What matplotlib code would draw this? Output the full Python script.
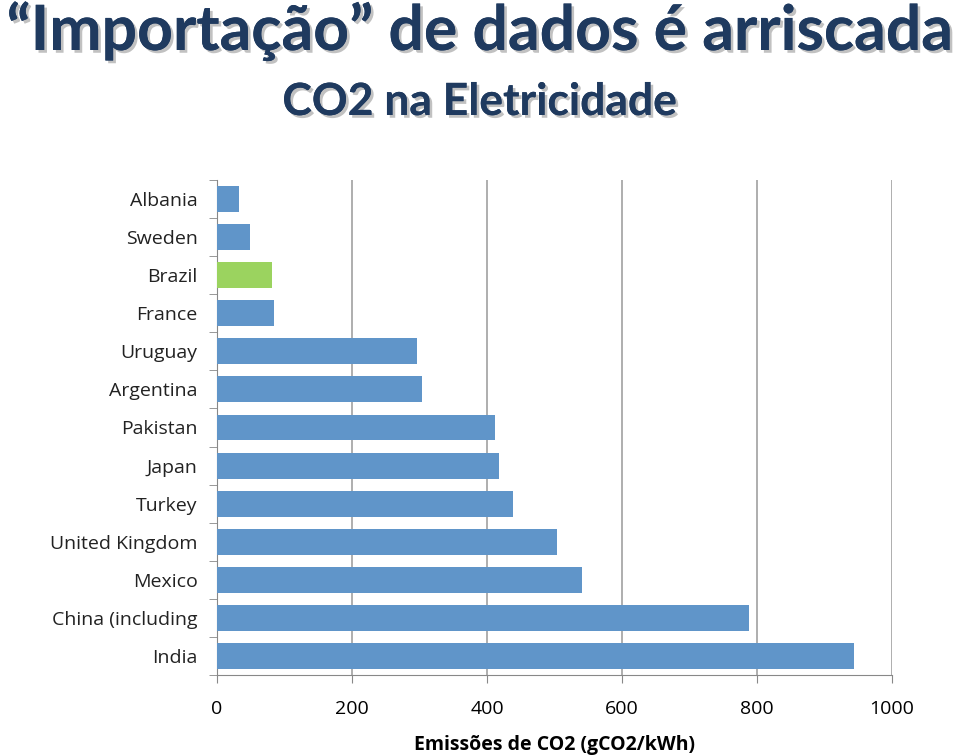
import matplotlib.pyplot as plt
import matplotlib.patheffects as pe

countries = ['Albania', 'Sweden', 'Brazil', 'France', 'Uruguay', 'Argentina',
             'Pakistan', 'Japan', 'Turkey', 'United Kingdom', 'Mexico',
             'China (including', 'India']
emissions = [33, 49, 81, 84, 296, 304, 412, 418, 439, 504, 541, 788, 944]
x_ticks = [0, 200, 400, 600, 800, 1000]

blue = '#6095C9'
green = '#9BD35F'
navy = '#1F3A5F'

colors = [green if c == 'Brazil' else blue for c in countries]

fig = plt.figure(figsize=(9.6, 7.56), dpi=100)
ax = fig.add_axes([217 / 960, 1 - 675 / 756, (892 - 217) / 960, (675 - 180) / 756])

y = list(range(len(countries)))
ax.barh(y, emissions, height=0.68, color=colors, zorder=3)
ax.set_ylim(len(countries) - 0.5, -0.5)
ax.set_xlim(0, 1000)

ax.set_xticks(x_ticks)
ax.set_xticklabels([str(t) for t in x_ticks], fontsize=14, family='Open Sans')
ax.set_yticks(y)
ax.set_yticklabels(countries, fontsize=14, family='Open Sans', color='#222222')
ax.tick_params(axis='y', length=0, pad=14)
# small tick marks between categories
ax.set_yticks([i - 0.5 for i in range(len(countries) + 1)], minor=True)
ax.tick_params(axis='y', which='minor', length=6, color='#888888')
ax.tick_params(axis='x', length=6, color='#888888', pad=12)

ax.grid(axis='x', color='#A8A8A8', linewidth=1.3, zorder=0)
for s in ['top', 'right']:
    ax.spines[s].set_visible(False)
ax.spines['left'].set_color('#888888')
ax.spines['bottom'].set_color('#888888')

ax.set_xlabel('Emissões de CO2 (gCO2/kWh)', fontsize=14, fontweight='bold',
              family='Open Sans', labelpad=12)

shadow = [pe.withSimplePatchShadow(offset=(2, -2), shadow_rgbFace='#999999', alpha=0.6), pe.Normal()]
fig.text(0.5, 1 - 50 / 756, '\u201cImportação\u201d de dados é arriscada', ha='center', va='baseline',
         fontsize=45, fontweight='bold', color=navy, family='Lato', path_effects=shadow)
fig.text(0.5, 1 - 115 / 756, 'CO2 na Eletricidade', ha='center', va='baseline',
         fontsize=32, fontweight='bold', color=navy, family='Lato', path_effects=shadow)

fig.savefig('out.png', dpi=100)
